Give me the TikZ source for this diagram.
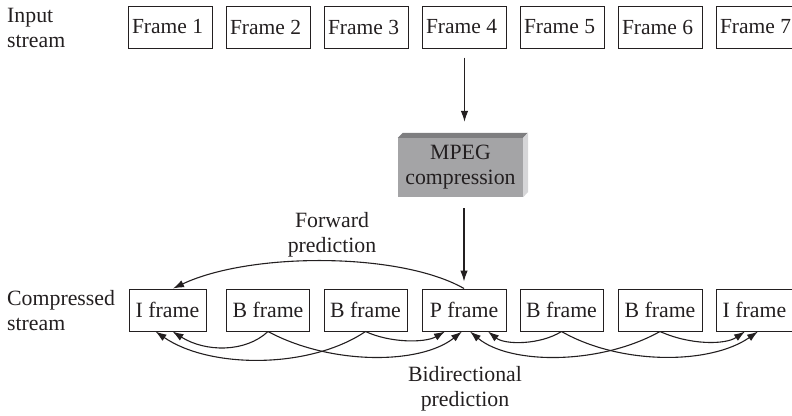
\documentclass[tikz,border=0pt]{standalone}
\usepackage{fontspec}
\setmainfont{Liberation Serif}
\usetikzlibrary{arrows.meta}
\definecolor{ink}{HTML}{231F20}
\definecolor{mpegfront}{HTML}{A4A4A6}
\definecolor{mpegtop}{HTML}{7E7E80}
\definecolor{mpegside}{HTML}{D6D6D8}

\begin{document}
\begin{tikzpicture}[x=1pt,y=-1pt,text=ink,
 font=\fontsize{21.8}{25}\selectfont,
 frame/.style={draw=ink,line width=1pt,minimum height=42pt,inner sep=0pt},
 topframe/.style={frame,font=\fontsize{21.5}{25}\selectfont,text width=77pt,inner xsep=3.5pt,align=flush left},
 side/.style={align=left,anchor=west,inner sep=0pt},
 note/.style={align=center,inner sep=0pt},
 flow/.style={-{Latex[length=11pt,width=7.5pt]},draw=ink,line width=1.1pt}]
\useasboundingbox (0,0) rectangle (792,415);
\node[side] (inlbl) at (7,28) {Input\\stream};
\foreach \i in {1,...,7}{
 \node[topframe] (fr\i) at ({170.5+98*(\i-1)},27) {Frame \i};
}
\node[fill=mpegfront,minimum width=125pt,minimum height=59pt,inner sep=0pt,align=center] (mpeg) at (460.5,167.5) {MPEG\\compression};
\fill[mpegtop] (mpeg.north west) -- ++(5,-5) -- ++(125,0) -- (mpeg.north east) -- cycle;
\fill[mpegside] (mpeg.north east) -- ++(5,-5) -- ++(0,59) -- (mpeg.south east) -- cycle;
\draw[flow,shorten <=9pt,shorten >=16pt] (fr4.south) -- (fr4.south |- mpeg.north);
\node[side] (outlbl) at (7,311) {Compressed\\stream};
\foreach \i/\x/\w/\t in {1/167.5/77pt/I,2/268/83pt/B,3/365.5/83pt/B,4/464/84pt/P,5/561.5/83pt/B,6/660/84pt/B,7/754.5/77pt/I}{
 \node[frame,minimum width=\w] (cf\i) at (\x,310) {\t\ frame};
}
\draw[flow,shorten <=11pt,shorten >=7pt] (cf4.north |- mpeg.south) -- (cf4.north);
\draw[flow] (cf4.north) .. controls (400,252) and (250,252) .. ([xshift=5.5pt]cf1.north);
\node[note] (fwd) at (332,235) {Forward\\prediction};
\draw[flow] (cf2.south) .. controls (245,353) and (205,352) .. ([xshift=5pt]cf1.south);
\draw[flow] (cf3.south) .. controls (310,369) and (210,369) .. ([xshift=-12pt]cf1.south);
\draw[flow] (cf2.south) .. controls (330,365) and (420,365) .. ([xshift=-2pt]cf4.south);
\draw[flow] (cf3.south) .. controls (390,343) and (425,343) .. ([xshift=-19pt]cf4.south);
\draw[flow] (cf5.south) .. controls (540,345) and (505,345) .. ([xshift=24pt]cf4.south);
\draw[flow] (cf6.south) .. controls (600,365) and (510,365) .. ([xshift=6pt]cf4.south);
\draw[flow] (cf5.south) .. controls (620,365) and (710,365) .. ([xshift=3.5pt]cf7.south);
\draw[flow] (cf6.south) .. controls (690,345) and (725,345) .. ([xshift=-9.5pt]cf7.south);
\node[note] (bidi) at (465,389) {Bidirectional\\prediction};
\end{tikzpicture}
\end{document}
